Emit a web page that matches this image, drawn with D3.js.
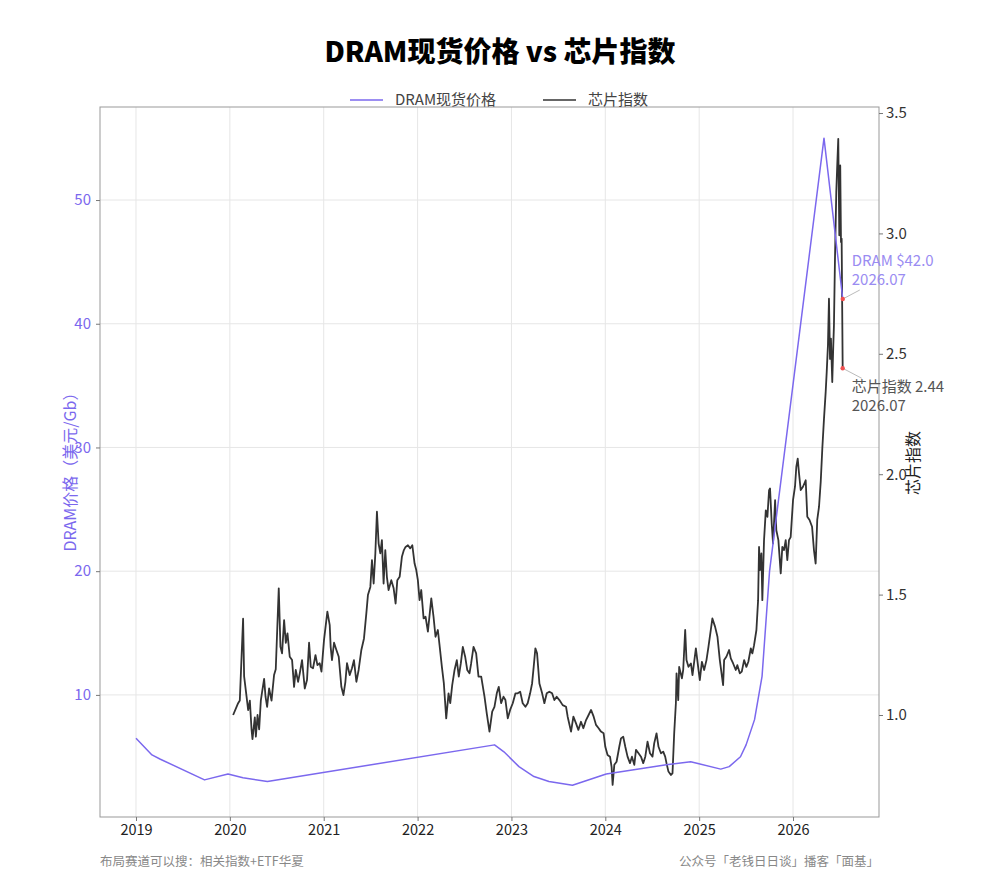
<!DOCTYPE html>
<html><head><meta charset="utf-8">
<script src="https://cdn.jsdelivr.net/npm/d3@7/dist/d3.min.js"></script>
<style>
body{margin:0;background:#fff;}
text{font-family:"Noto Sans CJK SC","Noto Sans",sans-serif;}
</style></head>
<body><svg id="c" width="1000" height="889"></svg>
<script>
const titleText = "DRAM现货价格 vs 芯片指数";
const seriesNames = ["DRAM现货价格", "芯片指数"];
const xTicks = [2019, 2020, 2021, 2022, 2023, 2024, 2025, 2026];
const leftTicks = [10, 20, 30, 40, 50];
const rightTicks = [1.0, 1.5, 2.0, 2.5, 3.0, 3.5];
const leftTitle = "DRAM价格（美元/Gb）";
const rightTitle = "芯片指数";
const footLeft = "布局赛道可以搜：相关指数+ETF华夏";
const footRight = "公众号「老钱日日谈」播客「面基」";

const dramYears = [2019.00, 2019.17, 2019.26, 2019.73, 2019.98, 2020.14, 2020.40, 2022.82, 2022.92, 2023.08, 2023.24, 2023.40, 2023.65, 2024.01, 2024.65, 2024.91, 2025.23, 2025.32, 2025.44, 2025.50, 2025.59, 2025.67, 2025.75, 2026.33, 2026.53];
const dramValues = [6.5, 5.15, 4.8, 3.13, 3.6, 3.3, 3.0, 5.96, 5.4, 4.2, 3.4, 3.0, 2.7, 3.6, 4.35, 4.6, 4.0, 4.2, 5.0, 5.96, 8.0, 11.5, 20.0, 55.0, 42.0];

const chipYears = [2020.035,2020.088,2020.106,2020.141,2020.152,2020.178,2020.195,2020.213,2020.231,2020.241,2020.266,2020.277,2020.295,2020.312,2020.330,2020.344,2020.365,2020.380,2020.397,2020.418,2020.444,2020.471,2020.489,2020.521,2020.539,2020.556,2020.578,2020.596,2020.614,2020.638,2020.663,2020.684,2020.702,2020.727,2020.745,2020.769,2020.798,2020.822,2020.844,2020.862,2020.886,2020.912,2020.933,2020.957,2020.976,2021.003,2021.039,2021.064,2021.074,2021.088,2021.110,2021.135,2021.160,2021.188,2021.210,2021.231,2021.248,2021.277,2021.301,2021.322,2021.348,2021.372,2021.401,2021.429,2021.454,2021.471,2021.497,2021.514,2021.532,2021.550,2021.567,2021.585,2021.603,2021.620,2021.638,2021.656,2021.673,2021.691,2021.720,2021.745,2021.766,2021.784,2021.809,2021.833,2021.854,2021.872,2021.897,2021.922,2021.944,2021.968,2021.986,2022.003,2022.021,2022.039,2022.064,2022.085,2022.110,2022.146,2022.170,2022.191,2022.216,2022.234,2022.259,2022.280,2022.305,2022.330,2022.348,2022.369,2022.394,2022.418,2022.439,2022.461,2022.482,2022.507,2022.529,2022.553,2022.571,2022.596,2022.624,2022.649,2022.678,2022.713,2022.737,2022.766,2022.795,2022.819,2022.844,2022.865,2022.890,2022.915,2022.936,2022.961,2022.986,2023.014,2023.043,2023.067,2023.093,2023.120,2023.149,2023.173,2023.199,2023.220,2023.237,2023.255,2023.273,2023.298,2023.327,2023.351,2023.376,2023.404,2023.433,2023.457,2023.482,2023.511,2023.546,2023.582,2023.599,2023.635,2023.660,2023.688,2023.713,2023.741,2023.766,2023.795,2023.822,2023.848,2023.876,2023.901,2023.929,2023.954,2023.982,2024.000,2024.024,2024.050,2024.067,2024.078,2024.096,2024.120,2024.149,2024.167,2024.191,2024.213,2024.237,2024.263,2024.284,2024.309,2024.327,2024.354,2024.380,2024.404,2024.426,2024.450,2024.476,2024.503,2024.521,2024.546,2024.567,2024.593,2024.617,2024.638,2024.652,2024.673,2024.699,2024.716,2024.734,2024.752,2024.759,2024.777,2024.787,2024.816,2024.830,2024.851,2024.865,2024.886,2024.912,2024.929,2024.965,2024.993,2025.007,2025.029,2025.053,2025.078,2025.099,2025.141,2025.170,2025.195,2025.220,2025.241,2025.255,2025.266,2025.290,2025.319,2025.337,2025.362,2025.390,2025.407,2025.433,2025.454,2025.479,2025.503,2025.524,2025.550,2025.567,2025.585,2025.610,2025.628,2025.638,2025.649,2025.663,2025.673,2025.691,2025.710,2025.727,2025.745,2025.755,2025.773,2025.787,2025.809,2025.822,2025.844,2025.869,2025.886,2025.904,2025.922,2025.939,2025.957,2025.975,2026.000,2026.021,2026.035,2026.050,2026.064,2026.082,2026.106,2026.135,2026.152,2026.176,2026.203,2026.223,2026.241,2026.258,2026.277,2026.295,2026.312,2026.330,2026.348,2026.359,2026.372,2026.383,2026.394,2026.404,2026.418,2026.429,2026.436,2026.447,2026.461,2026.471,2026.482,2026.493,2026.503,2026.511,2026.518,2026.529];
const chipValues = [1.00,1.049,1.06,1.40,1.16,1.076,1.02,1.06,0.94,0.90,0.99,0.91,1.00,0.94,1.06,1.097,1.15,1.076,1.034,1.11,1.06,1.166,1.19,1.526,1.283,1.256,1.394,1.30,1.339,1.242,1.228,1.117,1.187,1.138,1.173,1.228,1.11,1.145,1.30,1.20,1.194,1.249,1.207,1.215,1.18,1.311,1.429,1.373,1.283,1.228,1.30,1.27,1.242,1.117,1.083,1.138,1.215,1.166,1.194,1.228,1.138,1.187,1.27,1.318,1.422,1.498,1.532,1.643,1.546,1.671,1.844,1.712,1.671,1.726,1.546,1.685,1.574,1.519,1.56,1.526,1.463,1.56,1.574,1.657,1.685,1.698,1.705,1.692,1.705,1.629,1.602,1.56,1.477,1.519,1.401,1.408,1.346,1.484,1.408,1.325,1.353,1.29,1.20,1.131,0.986,1.09,1.049,1.124,1.187,1.228,1.159,1.215,1.283,1.242,1.187,1.173,1.215,1.283,1.256,1.159,1.159,1.076,1.007,0.931,1.014,1.034,1.09,1.117,1.049,1.076,1.062,0.986,1.021,1.049,1.09,1.09,1.097,1.049,1.034,1.049,1.09,1.131,1.20,1.277,1.256,1.131,1.09,1.049,1.09,1.097,1.09,1.062,1.076,1.062,1.041,1.034,0.993,0.931,0.993,0.965,0.938,0.972,0.945,0.979,1.00,1.021,0.993,0.959,0.945,0.931,0.924,0.868,0.834,0.827,0.785,0.71,0.793,0.806,0.868,0.903,0.91,0.868,0.827,0.80,0.827,0.793,0.855,0.841,0.827,0.80,0.827,0.889,0.841,0.827,0.882,0.924,0.868,0.841,0.848,0.827,0.80,0.765,0.751,0.758,0.924,1.049,1.173,1.062,1.20,1.152,1.187,1.353,1.228,1.20,1.214,1.166,1.277,1.187,1.145,1.221,1.187,1.228,1.283,1.401,1.366,1.325,1.228,1.166,1.124,1.228,1.242,1.27,1.235,1.214,1.187,1.207,1.173,1.18,1.228,1.20,1.221,1.277,1.256,1.29,1.353,1.477,1.698,1.602,1.671,1.477,1.726,1.85,1.823,1.934,1.941,1.795,1.712,1.892,1.768,1.726,1.588,1.698,1.685,1.726,1.643,1.726,1.739,1.892,1.948,2.03,2.065,2.003,1.934,1.948,1.975,1.823,1.81,1.782,1.685,1.629,1.81,1.865,1.968,2.106,2.231,2.342,2.425,2.535,2.729,2.479,2.563,2.383,2.535,2.618,2.895,3.172,3.282,3.393,2.992,3.282,2.964,2.978,2.44];

const lastDramLabel = ["DRAM $42.0", "2026.07"];
const lastChipLabel = ["芯片指数 2.44", "2026.07"];

const svg = d3.select("#c");
const W = 1000, H = 889;
const m = {l: 100, r: 879, t: 107, b: 817};
const purple = "#7b68ee", dark = "#333333";

svg.append("rect").attr("width", W).attr("height", H).attr("fill", "#fff");

const x = d3.scaleLinear().domain([2018.6165, 2026.916]).range([m.l, m.r]);
const yL = d3.scaleLinear().domain([0.13, 57.52]).range([m.b, m.t]);
const yR = d3.scaleLinear().domain([0.5764, 3.525]).range([m.b, m.t]);

// grid
const g = svg.append("g");
g.selectAll(".vx").data(xTicks).join("line")
  .attr("x1", d => x(d)).attr("x2", d => x(d)).attr("y1", m.t).attr("y2", m.b)
  .attr("stroke", "#e6e6e6").attr("stroke-width", 1);
g.selectAll(".hy").data(leftTicks).join("line")
  .attr("x1", m.l).attr("x2", m.r).attr("y1", d => yL(d)).attr("y2", d => yL(d))
  .attr("stroke", "#e6e6e6").attr("stroke-width", 1);

// frame
svg.append("rect").attr("x", m.l).attr("y", m.t).attr("width", m.r - m.l).attr("height", m.b - m.t)
  .attr("fill", "none").attr("stroke", "#999").attr("stroke-width", 1);

// axes
const xa = svg.append("g").attr("transform", `translate(0,${m.b})`)
  .call(d3.axisBottom(x).tickValues(xTicks).tickFormat(d3.format("d")).tickSize(4).tickPadding(4));
xa.select(".domain").remove();
xa.selectAll("line").attr("stroke", "#777");
xa.selectAll("text").attr("fill", "#222").attr("font-size", 14.5);

const la = svg.append("g").attr("transform", `translate(${m.l},0)`)
  .call(d3.axisLeft(yL).tickValues(leftTicks).tickFormat(d3.format("d")).tickSize(4).tickPadding(5));
la.select(".domain").remove();
la.selectAll("line").attr("stroke", "#777");
la.selectAll("text").attr("fill", purple).attr("font-size", 15);

const ra = svg.append("g").attr("transform", `translate(${m.r},0)`)
  .call(d3.axisRight(yR).tickValues(rightTicks).tickFormat(d3.format(".1f")).tickSize(4).tickPadding(3));
ra.select(".domain").remove();
ra.selectAll("line").attr("stroke", "#777");
ra.selectAll("text").attr("fill", "#333").attr("font-size", 15);

// axis titles
svg.append("text").attr("transform", `translate(76,468) rotate(-90)`).attr("text-anchor", "middle")
  .attr("fill", purple).attr("font-size", 16).text(leftTitle);
svg.append("text").attr("transform", `translate(919,463) rotate(-90)`).attr("text-anchor", "middle")
  .attr("fill", "#222").attr("font-size", 16).text(rightTitle);

// lines
const dram = dramYears.map((d, i) => [d, dramValues[i]]);
const chip = chipYears.map((d, i) => [d, chipValues[i]]);
svg.append("path").datum(chip).attr("fill", "none").attr("stroke", dark).attr("stroke-width", 1.8)
  .attr("stroke-linejoin", "round")
  .attr("d", d3.line().x(d => x(d[0])).y(d => yR(d[1])));
svg.append("path").datum(dram).attr("fill", "none").attr("stroke", purple).attr("stroke-width", 1.5)
  .attr("stroke-linejoin", "round")
  .attr("d", d3.line().x(d => x(d[0])).y(d => yL(d[1])));

// end annotations
const dEnd = dram[dram.length - 1], cEnd = chip[chip.length - 1];
const dx = x(dEnd[0]), dy = yL(dEnd[1]);
const cx = x(cEnd[0]), cy = yR(cEnd[1]);
svg.append("line").attr("x1", dx).attr("y1", dy).attr("x2", dx + 17).attr("y2", dy - 9)
  .attr("stroke", "#bbb").attr("stroke-width", 1);
svg.append("line").attr("x1", cx).attr("y1", cy).attr("x2", cx + 19).attr("y2", cy + 10)
  .attr("stroke", "#bbb").attr("stroke-width", 1);
svg.append("circle").attr("cx", dx).attr("cy", dy).attr("r", 2.2).attr("fill", "#f05050");
svg.append("circle").attr("cx", cx).attr("cy", cy).attr("r", 2.2).attr("fill", "#f05050");
const ta = svg.append("text").attr("fill", "#9a8cf2").attr("font-size", 15);
ta.append("tspan").attr("x", dx + 9).attr("y", dy - 33).text(lastDramLabel[0]);
ta.append("tspan").attr("x", dx + 9).attr("y", dy - 14).text(lastDramLabel[1]);
const tc = svg.append("text").attr("fill", "#555").attr("font-size", 15);
tc.append("tspan").attr("x", cx + 9).attr("y", cy + 24).text(lastChipLabel[0]);
tc.append("tspan").attr("x", cx + 9).attr("y", cy + 43).text(lastChipLabel[1]);

// title
svg.append("text").attr("x", 500).attr("y", 62).attr("text-anchor", "middle")
  .attr("font-size", 28).attr("font-weight", 900).attr("fill", "#000").text(titleText);

// legend
const lg = svg.append("g").attr("font-size", 15).attr("fill", "#444");
lg.append("line").attr("x1", 350).attr("x2", 383).attr("y1", 100).attr("y2", 100).attr("stroke", purple).attr("stroke-width", 1.6);
lg.append("text").attr("x", 395).attr("y", 105).text(seriesNames[0]);
lg.append("line").attr("x1", 543).attr("x2", 576).attr("y1", 100).attr("y2", 100).attr("stroke", dark).attr("stroke-width", 1.6);
lg.append("text").attr("x", 588).attr("y", 105).text(seriesNames[1]);

// footnotes
svg.append("text").attr("x", 100).attr("y", 866).attr("font-size", 12.5).attr("fill", "#888").text(footLeft);
svg.append("text").attr("x", 879).attr("y", 866).attr("text-anchor", "end").attr("font-size", 12.5).attr("fill", "#888").text(footRight);
</script></body></html>
